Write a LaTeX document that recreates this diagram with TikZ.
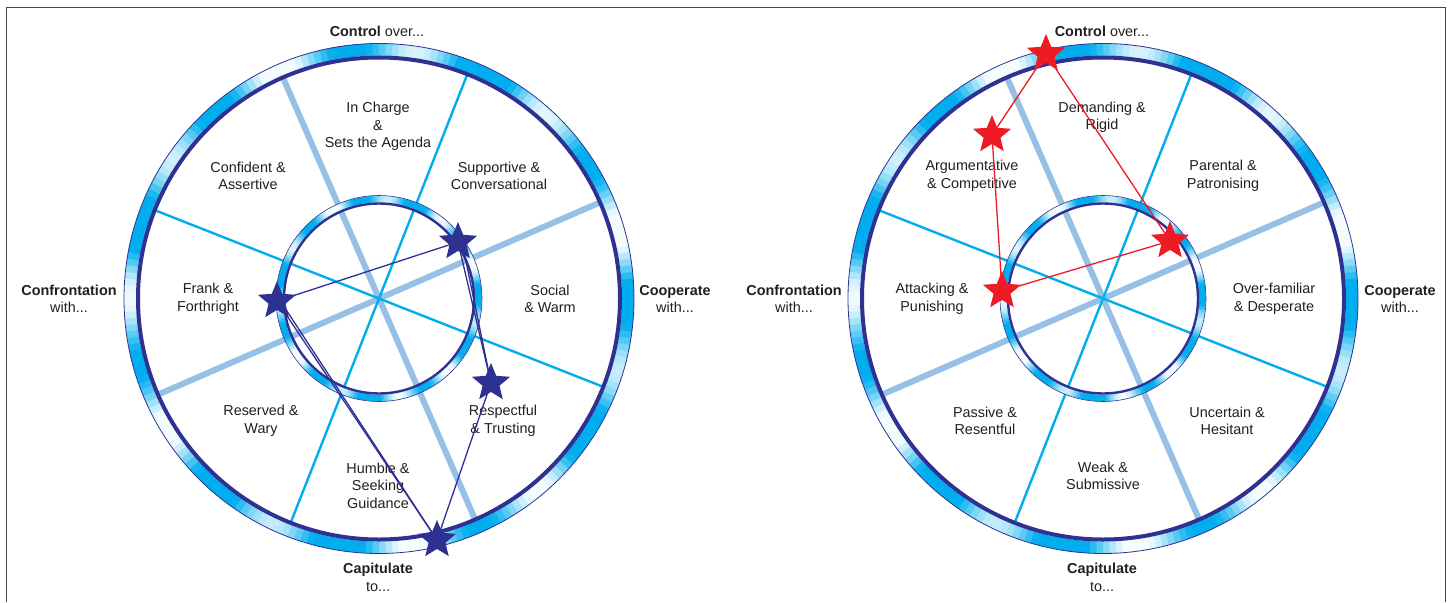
\documentclass[tikz,border=0pt]{standalone}
\usepackage{fontspec}
\setmainfont{Liberation Sans}
\usetikzlibrary{shapes.geometric,calc}
\definecolor{navy}{RGB}{46,49,146}
\definecolor{ringcyan}{RGB}{0,174,239}
\definecolor{spokelight}{RGB}{150,192,230}
\definecolor{starred}{RGB}{237,28,36}
\definecolor{framegray}{RGB}{70,70,70}
\definecolor{txt}{RGB}{35,31,32}

\newcommand{\tubering}[4]{%
  \foreach \a in {0,1.5,...,358.5}{%
    \pgfmathsetmacro\p{int(max(4,min(100,66+60*cos(11*\a+#4)+18*sin(4*\a+#4))))}%
    \draw[line width=#3pt, draw=ringcyan!\p!white] ($(#1)+(\a:#2)$) arc[start angle=\a, end angle=\a+2, radius=#2];
  }%
}
\newcommand{\wheel}[1]{%
  \draw[thickspoke] ($(#1)+(-23.5:240)$) -- ($(#1)+(156.5:240)$);
  \draw[thickspoke] ($(#1)+(-113.5:240)$) -- ($(#1)+(66.5:240)$);
  \draw[thinspoke] ($(#1)+(-68.5:240)$) -- ($(#1)+(111.5:240)$);
  \draw[thinspoke] ($(#1)+(-158.5:240)$) -- ($(#1)+(21.5:240)$);
  \tubering{#1}{249}{12}{0}
  \draw[navy, line width=4] (#1) circle[radius=241];
  \draw[navy, line width=0.8] (#1) circle[radius=255];
  \tubering{#1}{99.5}{6.5}{40}
  \draw[navy, line width=2.4] (#1) circle[radius=95];
  \draw[navy, line width=0.6] (#1) circle[radius=103];
}

\tikzset{
  lbl/.style={font=\fontsize{14.4}{17.5}\selectfont, align=center, inner sep=0pt, text=txt},
  thickspoke/.style={spokelight, line width=6},
  thinspoke/.style={ringcyan, line width=2.4},
  navystar/.style={star, star points=5, star point ratio=2.25, inner sep=0pt, minimum size=40pt, fill=navy, draw=none},
  redstar/.style={navystar, fill=starred},
  navylink/.style={navy, line width=1.3},
  redlink/.style={starred, line width=1.3},
}

\begin{document}
\begin{tikzpicture}[x=1pt,y=-1pt]
\useasboundingbox (0,0) rectangle (1450,602);
\fill[white] (0,0) rectangle (1450,602);
\draw[framegray, line width=1.8] (6.5,602) -- (6.5,7.5) -- (1445.5,7.5) -- (1445.5,602);

\coordinate (L) at (379,298.5);
\coordinate (R) at (1103,298.5);

\wheel{L}
\wheel{R}

% left labels
\node[lbl] (lc)  at (378,126.5) {In Charge\\\&\\Sets the Agenda};
\node[lbl] (lca) at (248,176) {Confident \&\\Assertive};
\node[lbl] (lsc) at (499,176) {Supportive \&\\Conversational};
\node[lbl] (lff) at (208,299) {Frank \&\\Forthright};
\node[lbl] (lsw) at (550,299) {Social\\\& Warm};
\node[lbl] (lrw) at (261,421) {Reserved \&\\Wary};
\node[lbl] (lrt) at (503,421) {Respectful\\\& Trusting};
\node[lbl] (lhs) at (378,485.5) {Humble \&\\Seeking\\Guidance};
\node[lbl] (lco) at (377,31.5) {\textbf{Control} over...};
\node[lbl] (lcf) at (69,299) {\textbf{Confrontation}\\with...};
\node[lbl] (lcp) at (675,299) {\textbf{Cooperate}\\with...};
\node[lbl] (lca2) at (378,577.5) {\textbf{Capitulate}\\to...};

% right labels
\node[lbl] (rdr) at (1102,117.5) {Demanding \&\\Rigid};
\node[lbl] (rac) at (972,176) {Argumentative\\\& Competitive};
\node[lbl] (rpp) at (1223,176) {Parental \&\\Patronising};
\node[lbl] (rap) at (932,299) {Attacking \&\\Punishing};
\node[lbl] (rod) at (1274,299) {Over-familiar\\\& Desperate};
\node[lbl] (rpr) at (985,421) {Passive \&\\Resentful};
\node[lbl] (ruh) at (1227,421) {Uncertain \&\\Hesitant};
\node[lbl] (rws) at (1103,476) {Weak \&\\Submissive};
\node[lbl] (rco) at (1102,31.5) {\textbf{Control} over...};
\node[lbl] (rcf) at (794,299) {\textbf{Confrontation}\\with...};
\node[lbl] (rcp) at (1400,299) {\textbf{Cooperate}\\with...};
\node[lbl] (rca) at (1102,577.5) {\textbf{Capitulate}\\to...};

% left stars
\node[navystar] (sf) at (277,301) {};
\node[navystar] (st) at (458,242) {};
\node[navystar] (ss) at (491,383) {};
\node[navystar] (sb) at (437,540) {};
\draw[navylink] (sf.center) -- (st.center);
\draw[navylink] (st.center) -- (ss.center);
\draw[navylink] ([xshift=4pt]st.center) -- (ss.center);
\draw[navylink] (ss.center) -- (sb.center);
\draw[navylink] (sb.center) -- (sf.center);
\draw[navylink] (sb.center) -- ([xshift=4pt,yshift=-1pt]sf.center);

% right stars
\node[redstar] (rt) at (1046,54) {};
\node[redstar] (ra) at (992,135) {};
\node[redstar] (rk) at (1002,291) {};
\node[redstar] (ri) at (1170,241) {};
\draw[redlink] (rt.center) -- (ra.center);
\draw[redlink] (ra.center) -- (rk.center);
\draw[redlink] (rk.center) -- (ri.center);
\draw[redlink] (ri.center) -- (rt.center);
\end{tikzpicture}
\end{document}
